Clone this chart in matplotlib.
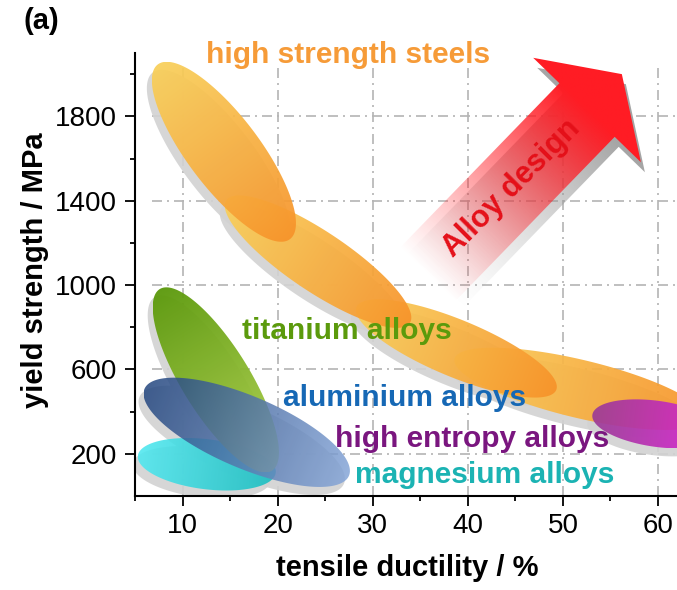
import numpy as np
import matplotlib
matplotlib.use("Agg")
import matplotlib.pyplot as plt
from matplotlib.patches import Polygon
from matplotlib.colors import to_rgb

plt.rcParams['font.family'] = ['Liberation Sans', 'DejaVu Sans']

# each band: end points of its long axis as (ductility %, yield strength MPa)
steel_ductility = [(7.4, 21.3), (14.6, 33.9), (28.3, 49.3), (38.6, 64.9)]
steel_strength = [(2046, 1218), (1402, 820), (896, 503), (650, 366)]
titanium_ductility = (7.6, 19.4)
titanium_strength = (981, 120)
aluminium_ductility = (6.0, 27.5)
aluminium_strength = (508, 96)
magnesium_ductility = (5.3, 19.8)
magnesium_strength = (191, 110)
hea_ductility = (53.1, 66.7)
hea_strength = (385, 299)

# band thickness across the long axis (px)
steel_thick = [72, 60, 57, 58]
titanium_thick = 68
aluminium_thick = 72
magnesium_thick = 50
hea_thick = 46

labels = ['high strength steels', 'titanium alloys', 'aluminium alloys',
          'high entropy alloys', 'magnesium alloys']
label_x = [12.5, 16.3, 20.6, 26.0, 28.1]
label_y = [2051, 744, 427, 233, 63]
label_colors = ['#f69b38', '#5b9a0c', '#1668b5', '#7a167f', '#1bb3b3']

x_major = [10, 20, 30, 40, 50, 60]
x_minor = [5, 15, 25, 35, 45, 55]
y_major = [200, 600, 1000, 1400, 1800]
y_minor = [400, 800, 1200, 1600, 2000]

arrow_tail = (35.7, 1047)
arrow_tip = (56.2, 2000)

fig = plt.figure(figsize=(6.77, 5.9), dpi=100)
ax = fig.add_axes([0.1994, 0.1593, 0.8006, 0.7508])
ax.set_xlim(5, 62)
ax.set_ylim(0, 2100)


def gradient_fill(pts, p0, p1, c0, c1, a0, a1, z, gamma=1.0):
    # pts, p0, p1 in display coords
    inv = ax.transData.inverted()
    verts = inv.transform(pts)
    clip = Polygon(verts, closed=True, transform=ax.transData, fc='none', ec='none')
    x0, y0 = verts.min(0)
    x1, y1 = verts.max(0)
    gx, gy = np.meshgrid(np.linspace(x0, x1, 300), np.linspace(y0, y1, 300))
    d = ax.transData.transform(np.column_stack([gx.ravel(), gy.ravel()]))
    v = np.asarray(p1) - np.asarray(p0)
    L = np.hypot(*v)
    t = np.clip(((d - p0) @ (v / L)) / L, 0, 1).reshape(gx.shape) ** gamma
    rgb = (1 - t)[..., None] * np.array(to_rgb(c0)) + t[..., None] * np.array(to_rgb(c1))
    alpha = (1 - t) * a0 + t * a1
    img = np.dstack([rgb, alpha])
    im = ax.imshow(img, extent=(x0, x1, y0, y1), origin='lower', aspect='auto',
                   interpolation='bilinear', zorder=z)
    im.set_clip_path(clip)


def band(xs, ys, thick, c0, c1, alpha, z):
    p = ax.transData.transform(np.column_stack([xs, ys]))
    ctr = p.mean(0)
    v = p[1] - p[0]
    L = np.hypot(*v)
    u = v / L
    nrm = np.array([-u[1], u[0]])
    th = np.linspace(0, 2 * np.pi, 240)
    pts = ctr + np.outer(np.cos(th) * L / 2, u) + np.outer(np.sin(th) * thick / 2, nrm)
    shadow = ax.transData.inverted().transform(pts + np.array([-5, -8]))
    ax.add_patch(Polygon(shadow, closed=True, fc='#d2d2d2', ec='none', alpha=0.9, zorder=1))
    gradient_fill(pts, p[0], p[1], c0, c1, alpha, alpha, z)


# grid
ax.vlines(x_major, 0, 2040, colors='#b4b4b4', lw=1.2, linestyles=[(0, (6, 3, 1.2, 3))], zorder=0.5)
ax.hlines(y_major, 6.8, 62, colors='#b4b4b4', lw=1.2, linestyles=[(0, (6, 3, 1.2, 3))], zorder=0.5)

# steel chain
for i in range(3, -1, -1):
    band(steel_ductility[i], steel_strength[i], steel_thick[i], '#f9d05a', '#f7932a', 0.93, 2 + (3 - i) * 0.1)
band(hea_ductility, hea_strength, hea_thick, '#9a3c96', '#e020d8', 0.92, 2.6)
band(magnesium_ductility, magnesium_strength, magnesium_thick, '#4fe8f0', '#15bdc0', 0.88, 2.7)
band(titanium_ductility, titanium_strength, titanium_thick, '#5a980a', '#b2d34e', 0.95, 2.8)
band(aluminium_ductility, aluminium_strength, aluminium_thick, '#23467f', '#86a6d8', 0.85, 2.9)

# "Alloy design" arrow
A, T = ax.transData.transform([arrow_tail, arrow_tip])
d = (T - A) / np.hypot(*(T - A))
n = np.array([-d[1], d[0]])
B = T - 50 * d
shaft, head = 38.5, 75
arrow = np.array([A + shaft * n, B + shaft * n, B + head * n, T,
                  B - head * n, B - shaft * n, A - shaft * n])
gradient_fill(arrow + np.array([4, -10]), A, B, '#9a9a9a', '#9a9a9a', 0.0, 0.9, 1.5, 1.3)
gradient_fill(arrow, A, B, '#ff1c24', '#ff1c24', 0.0, 1.0, 3.5, 1.1)
ax.text(44.6, 1459, 'Alloy design', color='#e41019', fontsize=22, fontweight='bold',
        rotation=45, rotation_mode='anchor', ha='center', va='center', zorder=5)

for txt, x, y, c in zip(labels, label_x, label_y, label_colors):
    ax.text(x, y, txt, color=c, fontsize=21.5, fontweight='bold', ha='left', va='baseline', zorder=5)

ax.spines['top'].set_visible(False)
ax.spines['right'].set_visible(False)
for s in ('left', 'bottom'):
    ax.spines[s].set_linewidth(1.5)

ax.set_xticks(x_major)
ax.set_xticks(x_minor, minor=True)
ax.set_yticks(y_major)
ax.set_yticks(y_minor, minor=True)
ax.tick_params(which='major', length=7, width=1.3, labelsize=20)
ax.tick_params(which='minor', length=3.5, width=1.3)
ax.tick_params(axis='x', pad=5)
ax.tick_params(axis='y', pad=6)

ax.set_xlabel('tensile ductility / %', fontsize=21, fontweight='bold')
ax.set_ylabel('yield strength / MPa', fontsize=21, fontweight='bold')
ax.xaxis.set_label_coords(0.503, -0.131)
ax.yaxis.set_label_coords(-0.159, 0.51)

fig.text(0.034, 0.964, '(a)', fontsize=21, fontweight='bold', va='center')

ax.set_xlim(5, 62)
ax.set_ylim(0, 2100)
fig.savefig('out.png', dpi=100)
